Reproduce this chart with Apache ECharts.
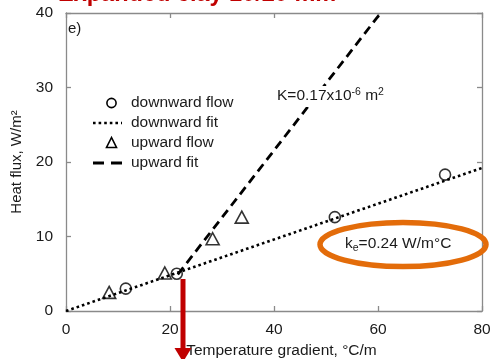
<!DOCTYPE html>
<html>
<head>
<meta charset="utf-8">
<script src="https://cdn.jsdelivr.net/npm/echarts@6/dist/echarts.min.js"></script>
<style>
  html, body { margin: 0; padding: 0; background: #fff; }
  #chart { width: 493px; height: 359px; }
</style>
</head>
<body>
<div id="chart"></div>
<script>
// Measured heat flux vs temperature gradient
const downwardGradient = [11.5, 21.3, 51.7, 72.9];
const downwardFlux     = [3.0, 5.0, 12.6, 18.3];
const upwardGradient   = [8.3, 19.0, 28.2, 33.8];
const upwardFlux       = [2.5, 5.1, 9.7, 12.6];

// Fitted lines (end points)
const downwardFitX = [0, 80];
const downwardFitY = [0, 19.2];
const upwardFitX   = [21.5, 60.5];
const upwardFitY   = [4.9, 40];

const xTicks = [0, 20, 40, 60, 80];
const yTicks = [0, 10, 20, 30, 40];

const pairs = (xs, ys) => xs.map((x, i) => [x, ys[i]]);

const FONT = 'Liberation Sans, Arial, sans-serif';
const INK = '#1a1a1a';
const FRAME = '#8a8a8a';

const chart = echarts.init(document.getElementById('chart'), null, { renderer: 'canvas' });

const frameAxis = {
  axisLine: { show: true, onZero: false, lineStyle: { color: FRAME, width: 1.3 } },
  axisTick: { show: true, inside: true, length: 5, lineStyle: { color: FRAME, width: 1.3 } },
  splitLine: { show: false }
};

chart.setOption({
  animation: false,
  backgroundColor: '#fff',
  grid: { left: 66, right: 11, top: 13, bottom: 48, outerBoundsMode: 'none', containLabel: false },
  xAxis: [
    Object.assign({
      type: 'value', min: xTicks[0], max: xTicks[xTicks.length - 1], interval: 20,
      position: 'bottom',
      axisLabel: { color: INK, fontSize: 15.5, fontFamily: FONT, margin: 11 },
      name: 'Temperature gradient, °C/m',
      nameLocation: 'middle', nameGap: 29,
      nameTextStyle: { color: INK, fontSize: 15.5, fontFamily: FONT, padding: [0, 0, 0, 15] }
    }, frameAxis),
    Object.assign({
      type: 'value', min: xTicks[0], max: xTicks[xTicks.length - 1], interval: 20,
      position: 'top', axisLabel: { show: false }
    }, frameAxis)
  ],
  yAxis: [
    Object.assign({
      type: 'value', min: yTicks[0], max: yTicks[yTicks.length - 1], interval: 10,
      position: 'left',
      axisLabel: { color: INK, fontSize: 15.5, fontFamily: FONT, margin: 13 },
      name: 'Heat flux, W/m²',
      nameLocation: 'middle', nameGap: 31, nameRotate: 90,
      nameTextStyle: { color: INK, fontSize: 15, fontFamily: FONT }
    }, frameAxis),
    Object.assign({
      type: 'value', min: yTicks[0], max: yTicks[yTicks.length - 1], interval: 10,
      position: 'right', axisLabel: { show: false }
    }, frameAxis)
  ],
  series: [
    {
      name: 'downward fit', type: 'line', data: pairs(downwardFitX, downwardFitY),
      showSymbol: false, z: 2,
      lineStyle: { color: '#000', width: 2.6, type: [2.6, 3], cap: 'butt' }
    },
    {
      name: 'upward fit', type: 'line', data: pairs(upwardFitX, upwardFitY),
      showSymbol: false, z: 2,
      lineStyle: { color: '#000', width: 2.8, type: [9, 5.5], cap: 'butt' }
    },
    {
      name: 'downward flow', type: 'scatter', data: pairs(downwardGradient, downwardFlux),
      symbol: 'circle', symbolSize: 11, z: 3,
      itemStyle: { color: 'rgba(0,0,0,0)', borderColor: '#000', borderWidth: 1.6 }
    },
    {
      name: 'upward flow', type: 'scatter', data: pairs(upwardGradient, upwardFlux),
      symbol: 'triangle', symbolSize: [13, 12], z: 3,
      itemStyle: { color: 'rgba(0,0,0,0)', borderColor: '#000', borderWidth: 1.6 }
    }
  ],
  graphic: [
    // heading, partly above the top edge
    { type: 'text', left: 58, top: -17, z: 10,
      style: { text: 'Expanded clay 10/20 mm', fill: '#c00000',
               font: 'bold 23.5px ' + FONT } },
    // panel letter
    { type: 'text', x: 68, y: 29, z: 10,
      style: { text: 'e)', fill: INK, font: '15px ' + FONT, verticalAlign: 'middle' } },
    // legend
    { type: 'circle', shape: { cx: 111.5, cy: 103, r: 4.6 }, z: 10,
      style: { fill: 'none', stroke: '#000', lineWidth: 1.6 } },
    { type: 'line', shape: { x1: 93, y1: 123, x2: 122, y2: 123 }, z: 10,
      style: { stroke: '#000', lineWidth: 2.6, lineDash: [2.6, 3] } },
    { type: 'polygon', shape: { points: [[111.5, 137.5], [106.5, 147.5], [116.5, 147.5]] }, z: 10,
      style: { fill: 'none', stroke: '#000', lineWidth: 1.6 } },
    { type: 'line', shape: { x1: 93, y1: 163, x2: 122, y2: 163 }, z: 10,
      style: { stroke: '#000', lineWidth: 2.8, lineDash: [11, 7] } },
    { type: 'text', x: 131, y: 103, z: 10,
      style: { text: 'downward flow', fill: INK, font: '15.5px ' + FONT, verticalAlign: 'middle' } },
    { type: 'text', x: 131, y: 123, z: 10,
      style: { text: 'downward fit', fill: INK, font: '15.5px ' + FONT, verticalAlign: 'middle' } },
    { type: 'text', x: 131, y: 143, z: 10,
      style: { text: 'upward flow', fill: INK, font: '15.5px ' + FONT, verticalAlign: 'middle' } },
    { type: 'text', x: 131, y: 163, z: 10,
      style: { text: 'upward fit', fill: INK, font: '15.5px ' + FONT, verticalAlign: 'middle' } },
    // permeability annotation on a white box
    { type: 'rect', shape: { x: 275, y: 86, width: 114, height: 21 }, z: 9,
      style: { fill: '#fff' } },
    { type: 'text', x: 277, y: 96, z: 10,
      style: {
        text: '{b|K=0.17x10}{s|-6}{b| m}{s|2}',
        verticalAlign: 'middle',
        rich: {
          b: { fill: INK, font: '15.5px ' + FONT },
          s: { fill: INK, font: '10.5px ' + FONT, verticalAlign: 'top', padding: [0, 0, 7, 0] }
        }
      } },
    // conductivity annotation with highlight ring
    { type: 'ellipse', shape: { cx: 403, cy: 244.5, rx: 83, ry: 22 }, z: 11,
      style: { fill: 'none', stroke: '#e36c0a', lineWidth: 5.5 } },
    { type: 'text', x: 345, y: 244, z: 12,
      style: {
        text: '{b|k}{s|e}{b|=0.24 W/m°C}',
        verticalAlign: 'middle',
        rich: {
          b: { fill: INK, font: '15.5px ' + FONT },
          s: { fill: INK, font: '10.5px ' + FONT, padding: [8, 0, 0, 0] }
        }
      } },
    // red arrow
    { type: 'line', shape: { x1: 183, y1: 279, x2: 183, y2: 350 }, z: 12,
      style: { stroke: '#c00000', lineWidth: 5 } },
    { type: 'polygon', shape: { points: [[174.5, 348], [191.5, 348], [183, 362]] }, z: 12,
      style: { fill: '#c00000' } }
  ]
});
</script>
</body>
</html>
